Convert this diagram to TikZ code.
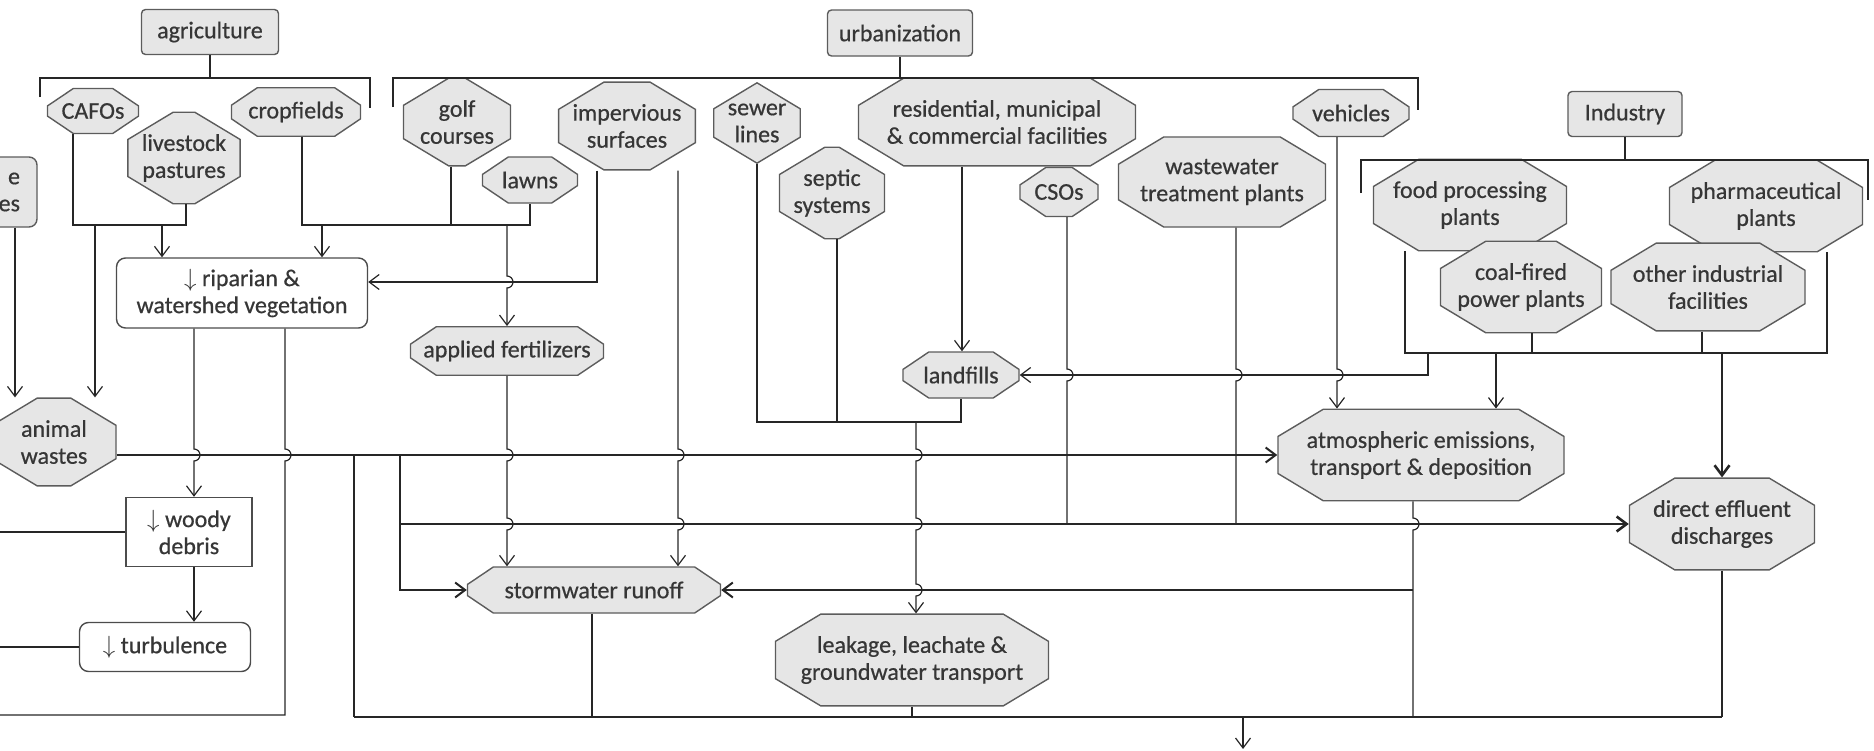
\documentclass[tikz,border=0pt]{standalone}
\usepackage{fontspec}
\setmainfont{Carlito}[FakeBold=0.6]
\usetikzlibrary{shapes.misc,arrows.meta}
\definecolor{boxfill}{HTML}{E6E6E6}
\definecolor{boxline}{HTML}{5C5C5C}
\definecolor{ink}{HTML}{262626}
\definecolor{txt}{HTML}{363636}
% vertical line hopping to the right over a horizontal line at height #2
\newcommand\hop[2]{-- (#1,#2-6) arc[start angle=-90,end angle=90,radius=6]}
\begin{document}
\begin{tikzpicture}[x=1pt,y=-1pt,
  font=\fontsize{24}{27}\selectfont,
  base/.style={text=txt, align=center, inner sep=2pt, line width=1.4pt, draw=boxline},
  oct/.style={base, fill=boxfill, chamfered rectangle, chamfered rectangle angle=56,
    chamfered rectangle xsep=8pt, chamfered rectangle ysep=12pt},
  toct/.style={base, fill=boxfill, chamfered rectangle, chamfered rectangle angle=59,
    chamfered rectangle xsep=12pt, chamfered rectangle ysep=20pt},
  cat/.style={base, fill=boxfill, rectangle, rounded corners=4pt},
  wbox/.style={base, draw=black!70, fill=white, rectangle, rounded corners=9pt},
  sqbox/.style={base, draw=black!70, fill=white, rectangle},
  ln/.style={draw=ink, line width=1.2pt},
  mid/.style={draw=ink, line width=2pt},
  thk/.style={draw=ink, line width=2.6pt},
  arr/.style={-{Straight Barb[length=10pt,width=15pt]}},
]
\useasboundingbox (0,0) rectangle (1874,750);
\coordinate (edgeL) at (-5,0);

% ---- sectors
\node[cat, minimum width=137pt, minimum height=45pt] (agri) at (210,32) {agriculture};
\node[cat, minimum width=145pt, minimum height=46pt] (urb) at (900,33) {urbanization};
\node[cat, minimum width=114pt, minimum height=45pt] (ind) at (1625,114) {Industry};

% ---- agricultural sources
\node[cat, rounded corners=8pt, text width=60pt, align=right, inner xsep=17pt,
      minimum height=70pt] (ees) at (-10,192) {e\\es};
\node[oct, minimum width=91pt, minimum height=45pt] (cafo) at (93,111) {CAFOs};
\node[toct, minimum width=99pt, minimum height=71pt] (live) at (184,158) {livestock\\pastures};
\node[oct, minimum width=129pt, minimum height=43pt] (crop) at (296,112) {cropfields};

% ---- urban sources
\node[toct, minimum width=107pt, minimum height=69pt] (golf) at (457,122) {golf\\courses};
\node[oct, minimum width=95pt, minimum height=46pt] (lawn) at (530,180) {lawns};
\node[toct, minimum width=130pt, minimum height=67pt] (imperv) at (627,126) {impervious\\surfaces};
\node[toct, minimum width=69pt, minimum height=70pt] (sewer) at (757,123) {sewer\\lines};
\node[toct, minimum width=102pt, minimum height=73pt] (septic) at (832,193) {septic\\systems};
\node[toct, minimum width=277pt, minimum height=69pt] (resid) at (997,122) {residential, municipal\\\& commercial facilities};
\node[oct, minimum width=116pt, minimum height=47pt] (veh) at (1351,113) {vehicles};
\node[oct, minimum width=78pt, minimum height=49pt] (cso) at (1059,192) {CSOs};
\node[toct, minimum width=207pt, minimum height=70pt] (wwtp) at (1222,182) {wastewater\\treatment plants};

% ---- industrial sources
\node[toct, minimum width=193pt, minimum height=66pt] (food) at (1470,205) {food processing\\plants};
\node[toct, minimum width=193pt, minimum height=68pt] (pharm) at (1766,206) {pharmaceutical\\plants};
\node[toct, minimum width=161pt, minimum height=70pt] (coal) at (1521,287) {coal-fired\\power plants};
\node[toct, minimum width=194pt, minimum height=70pt] (other) at (1708,287) {other industrial\\facilities};

% ---- pathways
\node[wbox, minimum width=251pt, minimum height=70pt] (ripar) at (242,293) {$\downarrow$ riparian \&\\watershed vegetation};
\node[sqbox, minimum width=126pt, minimum height=69pt] (woody) at (189,532) {$\downarrow$ woody\\debris};
\node[wbox, minimum width=171pt, minimum height=49pt] (turb) at (165,647) {$\downarrow$ turbulence};
\node[oct, minimum width=193pt, minimum height=48pt] (fert) at (507,351) {applied fertilizers};
\node[oct, minimum width=116pt, minimum height=46pt] (landf) at (961,375) {landfills};
\node[toct, minimum width=124pt, minimum height=67pt] (animal) at (54,442) {animal\\wastes};
\node[toct, minimum width=286pt, minimum height=68pt] (atmos) at (1421,455) {atmospheric emissions,\\transport \& deposition};
\node[toct, minimum width=185pt, minimum height=68pt] (direct) at (1722,524) {direct effluent\\discharges};
\node[oct, minimum width=253pt, minimum height=46pt] (storm) at (594,590) {stormwater runoff};
\node[toct, minimum width=273pt, minimum height=70pt] (leak) at (912,660) {leakage, leachate \&\\groundwater transport};

% ---- sector brackets
\draw[ln] (agri) -- (agri |- 0,78);
\draw[ln] (40,97) -- (40,78) -- (370,78) -- (370,108);
\draw[ln] (urb) -- (urb |- 0,78);
\draw[ln] (393,107) -- (393,78) -- (1418,78) -- (1418,110);
\draw[ln] (ind) -- (ind |- 0,160);
\draw[ln] (1361,193) -- (1361,160) -- (1868,160) -- (1868,200);

% ---- agriculture
\draw[ln] (cafo.south -| 73,0) -- (73,225) -- (186,225) -- (live.south -| 186,0);
\draw[ln,arr] (162,225) -- (ripar.north -| 162,0);
\draw[ln,arr] (95,225) -- (animal.north -| 95,0);
\draw[ln,arr] (ees.south -| 15,0) -- (animal.north -| 15,0);
\draw[ln] (crop.south -| 302,0) -- (302,225) -- (530,225) -- (lawn.south);
\draw[ln] (golf.south -| 451,0) -- (451,225);
\draw[ln,arr] (322,225) -- (ripar.north -| 322,0);
\draw[ln,arr] (507,225) \hop{507}{282} -- (fert.north -| 507,0);

% ---- impervious surfaces
\draw[ln,arr] (imperv.south -| 597,0) -- (597,282) -- (ripar.east |- 0,282);
\draw[ln,arr] (imperv.south -| 678,0) \hop{678}{455} \hop{678}{524} -- (storm.north -| 678,0);

% ---- vegetation, debris, turbulence
\draw[ln,arr] (ripar.south -| 194,0) \hop{194}{455} -- (woody.north -| 194,0);
\draw[ln] (ripar.south -| 285,0) \hop{285}{455} -- (285,715) -- (edgeL |- 0,715);
\draw[ln,arr] (woody.south -| 194,0) -- (turb.north -| 194,0);
\draw[ln] (woody.west) -- (woody.west -| edgeL);
\draw[ln] (turb.west) -- (turb.west -| edgeL);

% ---- animal wastes
\draw[mid,arr] (animal.east |- atmos.west) -- (atmos.west);
\draw[ln] (354,455) -- (354,717);
\draw[mid,arr] (400,455) -- (400,590) -- (storm.west);
\draw[thk,arr] (400,524) -- (direct.west);

% ---- fertilizers
\draw[ln,arr] (fert.south -| 507,0) \hop{507}{455} \hop{507}{524} -- (storm.north -| 507,0);

% ---- urban infrastructure
\draw[ln,arr] (resid.south -| 962,0) -- (landf.north -| 962,0);
\draw[ln] (sewer.south) -- (757,422) -- (961,422) -- (landf.south);
\draw[ln] (septic.south -| 837,0) -- (837,422);
\draw[ln,arr] (916,422) \hop{916}{455} \hop{916}{524} \hop{916}{590} -- (leak.north -| 916,0);
\draw[ln] (cso.south -| 1067,0) \hop{1067}{375} -- (1067,524);
\draw[ln] (wwtp.south -| 1236,0) \hop{1236}{375} -- (1236,524);
\draw[ln,arr] (veh.south -| 1337,0) \hop{1337}{375} -- (atmos.north -| 1337,0);

% ---- industry
\draw[ln] (food.south -| 1405,0) -- (1405,353) -- (1827,353) -- (pharm.south -| 1827,0);
\draw[ln] (coal.south -| 1532,0) -- (1532,353);
\draw[ln] (other.south -| 1702,0) -- (1702,353);
\draw[ln,arr] (1496,353) -- (atmos.north -| 1496,0);
\draw[thk,arr] (1722,353) -- (direct.north);
\draw[ln,arr] (1428,353) -- (1428,375) -- (landf.east);

% ---- atmospheric deposition and final collector
\draw[ln] (atmos.south -| 1413,0) \hop{1413}{524} -- (1413,717);
\draw[mid,arr] (1413,590) -- (storm.east);
\draw[ln] (direct.south) -- (1722,717);
\draw[ln] (storm.south -| 592,0) -- (592,717);
\draw[ln] (leak.south) -- (912,717);
\draw[ln] (354,717) -- (1722,717);
\draw[ln,arr] (1243,717) -- (1243,749);
\end{tikzpicture}
\end{document}
